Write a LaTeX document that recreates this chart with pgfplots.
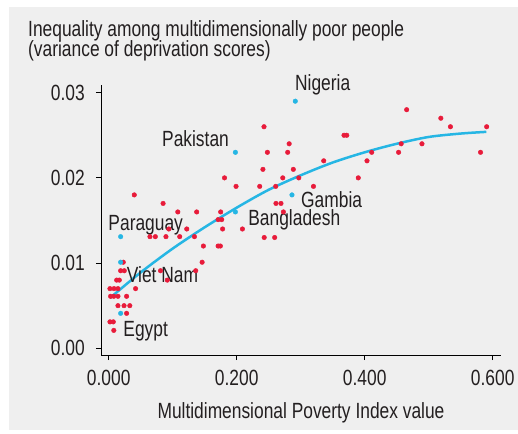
\documentclass[border=0pt]{standalone}
\usepackage{pgfplots}
\pgfplotsset{compat=1.18}
\usepackage{fontspec}
\setmainfont[FakeStretch=0.79]{Liberation Sans}
\definecolor{bg}{RGB}{239,239,239}
\definecolor{pred}{RGB}{232,27,58}
\definecolor{pblue}{RGB}{38,182,228}
\definecolor{txt}{RGB}{35,31,32}
\newcommand{\lf}{\fontsize{22}{26}\selectfont}
\begin{document}
\begin{tikzpicture}
\path[use as bounding box] (-101pt,-78pt) rectangle (417pt,355pt);
\fill[bg] (-92pt,-75pt) rectangle (417pt,347.5pt);
\begin{axis}[at={(0,0)}, anchor=south west, scale only axis,
  width=400pt, height=270pt,
  xmin=-0.012, xmax=0.613, ymin=-0.00079, ymax=0.0309,
  axis x line*=bottom, axis y line*=left,
  axis line style={line width=0.9pt, black, -},
  xtick={0,0.2,0.4,0.6}, ytick={0,0.01,0.02,0.03},
  tick align=outside, major tick length=5pt,
  tick style={line width=0.9pt, black},
  scaled ticks=false, clip=false,
  /pgf/number format/assume math mode=true,
  ticklabel style={font=\lf, text=txt, inner sep=0pt},
  xticklabel style={anchor=north, yshift=-10pt, /pgf/number format/.cd, fixed, fixed zerofill, precision=3},
  yticklabel style={anchor=east, xshift=-11pt, /pgf/number format/.cd, fixed, fixed zerofill, precision=2},
]
\addplot[pblue, line width=2.5pt, smooth] coordinates {
(0.002,0.0059) (0.05,0.0089) (0.10,0.0117) (0.15,0.0142) (0.20,0.0165)
(0.25,0.0186) (0.30,0.0203) (0.35,0.0218) (0.40,0.0230) (0.45,0.0240)
(0.50,0.0248) (0.55,0.0252) (0.59,0.0254)};
\addplot[pred, only marks, mark=*, mark size=2.3pt] coordinates {
(0.040,0.0180) (0.085,0.0170) (0.108,0.0160) (0.1375,0.0160) (0.175,0.0160)
(0.181,0.0200) (0.199,0.0190) (0.171,0.0151) (0.1766,0.0151) (0.178,0.0140)
(0.122,0.0140) (0.094,0.0140) (0.0645,0.0131) (0.0729,0.0131) (0.0895,0.0131)
(0.111,0.0131) (0.134,0.0131) (0.148,0.0120) (0.171,0.0120) (0.1745,0.0120)
(0.0228,0.0101) (0.146,0.0101) (0.0187,0.0091) (0.0244,0.0091) (0.081,0.0091)
(0.136,0.0091) (0.0916,0.0080) (0.0125,0.0080) (0.0166,0.0080) (0.002,0.0070)
(0.0083,0.0070) (0.0145,0.0070) (0.042,0.0070) (0.003,0.0061) (0.008,0.0061)
(0.0145,0.0061) (0.028,0.0061) (0.0145,0.0050) (0.024,0.0050) (0.033,0.0050)
(0.028,0.0041) (0.002,0.0031) (0.0072,0.0031) (0.008,0.0021)
(0.2427,0.0260) (0.282,0.0240) (0.248,0.0230) (0.2797,0.0230) (0.3677,0.0250)
(0.372,0.0250) (0.241,0.0210) (0.2885,0.0210) (0.336,0.0220) (0.272,0.0200)
(0.297,0.0200) (0.236,0.0190) (0.261,0.0190) (0.320,0.0190) (0.2614,0.0170)
(0.2692,0.0170) (0.273,0.0160) (0.209,0.0140) (0.243,0.0130) (0.2594,0.0130)
(0.4656,0.0280) (0.519,0.0270) (0.534,0.0260) (0.5906,0.0260) (0.457,0.0240)
(0.4895,0.0240) (0.411,0.0230) (0.453,0.0230) (0.581,0.0230) (0.4036,0.0220)
(0.390,0.0200)};
\addplot[pblue, only marks, mark=*, mark size=2.3pt] coordinates {
(0.2916,0.0290) (0.198,0.0230) (0.198,0.0160) (0.2864,0.0180)
(0.0187,0.0131) (0.0187,0.0101) (0.0187,0.0041)};
\begin{scope}[every node/.style={anchor=base west, inner sep=0pt, font=\lf, text=txt}]
\node at (axis cs:0.291,0.0303) {Nigeria};
\node at (axis cs:0.0833,0.02363) {Pakistan};
\node at (axis cs:0.3005,0.01655) {Gambia};
\node at (axis cs:0.218,0.01439) {Bangladesh};
\node at (axis cs:-0.0006,0.01388) {Paraguay};
\node at (axis cs:0.0281,0.0077) {Viet Nam};
\node at (axis cs:0.0228,0.00136) {Egypt};
\end{scope}
\end{axis}
\begin{scope}[every node/.style={inner sep=0pt, font=\lf, text=txt}]
\node[anchor=base west] at (-73pt,318pt) {Inequality among multidimensionally poor people};
\node[anchor=base west] at (-73pt,298.3pt) {(variance of deprivation scores)};
\node[anchor=base] at (200pt,-63pt) {Multidimensional Poverty Index value};
\end{scope}
\end{tikzpicture}
\end{document}
